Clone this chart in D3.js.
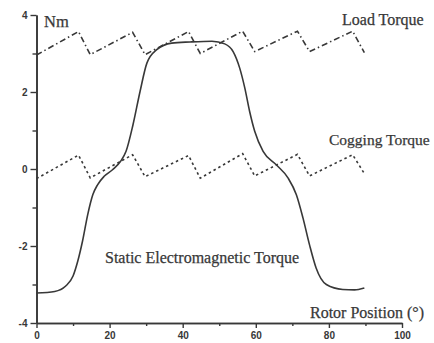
<!DOCTYPE html>
<html>
<head>
<meta charset="utf-8">
<script src="https://cdn.jsdelivr.net/npm/d3@7"></script>
<style>
  html, body { margin: 0; padding: 0; background: #fff; overflow: hidden; }
  svg { display: block; }
</style>
</head>
<body>
<div id="app"></div>
<script>
// rotor position (deg) at the corners of the saw-tooth curves
const toothAngles = [0, 11.5, 14.7, 26.3, 29.7, 41.6, 44.8, 56.4, 59.7, 71.4, 74.7, 86.5, 89.7]
const loadTorque = [2.96, 3.57, 2.97, 3.55, 2.97, 3.57, 3.0, 3.58, 3.05, 3.58, 3.05, 3.58, 3.02]
const coggingTorque = [-0.25, 0.36, -0.23, 0.37, -0.2, 0.35, -0.24, 0.4, -0.18, 0.38, -0.18, 0.37, -0.12]

const emAngles = [0, 5, 8, 10, 11.3, 12.6, 14, 15.4, 16.7, 18.5, 20.8, 23, 24.5, 26.4, 28.3, 30.2,
  32.9, 37, 42, 48, 51.5, 53.8, 55.6, 57, 58.3, 59.7, 62, 65.6, 68.8, 71.1, 72.9, 74.7, 76.5,
  79.3, 83.8, 87, 89.7]
const emTorque = [-3.22, -3.18, -3.04, -2.78, -2.39, -1.87, -1.19, -0.67, -0.41, -0.19, -0.02, 0.2,
  0.46, 1.15, 2.0, 2.75, 3.1, 3.27, 3.3, 3.32, 3.25, 3.05, 2.62, 2.1, 1.5, 0.98, 0.46, 0.11,
  -0.23, -0.67, -1.27, -1.97, -2.57, -3.0, -3.13, -3.14, -3.09]

const xMajor = [0, 20, 40, 60, 80, 100]
const xMinor = [10, 30, 50, 70, 90]
const yMajor = [4, 2, 0, -2, -4]
const yMinor = [3, 1, -1, -3]

const config = {
  width: 434,
  height: 343,
  ink: '#383838',
  serif: '"Liberation Serif", "DejaVu Serif", serif',
  sans: '"Liberation Sans", Arial, sans-serif',
}

const draw = () => {
  const svg = d3
    .select('#app')
    .append('svg')
    .attr('width', config.width)
    .attr('height', config.height)

  const x = d3.scaleLinear().domain([0, 100]).range([36.5, 402])
  const y = d3.scaleLinear().domain([-4, 4]).range([323, 15])

  const styleAxis = (g) => {
    g.select('.domain').attr('stroke', config.ink).attr('stroke-width', 1.6)
    g.selectAll('.tick line').attr('stroke', config.ink).attr('stroke-width', 1.4)
    g.selectAll('.tick text')
      .attr('fill', config.ink)
      .style('font-family', config.sans)
      .style('font-weight', 'bold')
      .style('font-size', '10px')
  }

  // minor ticks first, then the major axes on top
  svg.append('g')
    .attr('transform', `translate(0,${y(-4)})`)
    .call(d3.axisBottom(x).tickValues(xMinor).tickSize(3).tickSizeOuter(0).tickFormat(''))
    .call(styleAxis)
  svg.append('g')
    .attr('transform', `translate(${x(0)},0)`)
    .call(d3.axisLeft(y).tickValues(yMinor).tickSize(4).tickSizeOuter(0).tickFormat(''))
    .call(styleAxis)

  svg.append('g')
    .attr('transform', `translate(0,${y(-4)})`)
    .call(d3.axisBottom(x).tickValues(xMajor).tickSize(5).tickPadding(4).tickSizeOuter(0))
    .call(styleAxis)
  svg.append('g')
    .attr('transform', `translate(${x(0)},0)`)
    .call(d3.axisLeft(y).tickValues(yMajor).tickSize(6).tickPadding(3).tickSizeOuter(0)
      .tickFormat((d) => (d < 0 ? '-' + Math.abs(d) : d)))
    .call(styleAxis)

  const line = d3.line().x((d) => x(d[0])).y((d) => y(d[1]))

  const series = [
    {pts: d3.zip(toothAngles, loadTorque), dash: '6,3,1.5,3', curve: d3.curveLinear},
    {pts: d3.zip(toothAngles, coggingTorque), dash: '2.5,3', curve: d3.curveLinear},
    {pts: d3.zip(emAngles, emTorque), dash: null, curve: d3.curveMonotoneX},
  ]

  svg.append('g')
    .selectAll('path')
    .data(series)
    .join('path')
    .attr('d', (d) => line.curve(d.curve)(d.pts))
    .attr('fill', 'none')
    .attr('stroke', config.ink)
    .attr('stroke-width', 1.6)
    .attr('stroke-dasharray', (d) => d.dash)

  const labels = [
    {text: 'Nm', x: 44, y: 27, size: 16.5},
    {text: 'Load Torque', x: 342, y: 25, size: 16},
    {text: 'Cogging Torque', x: 329, y: 145, size: 15.5},
    {text: 'Static Electromagnetic Torque', x: 105, y: 263, size: 16},
    {text: 'Rotor Position (°)', x: 310, y: 318, size: 16},
  ]

  svg.append('g')
    .selectAll('text')
    .data(labels)
    .join('text')
    .attr('x', (d) => d.x)
    .attr('y', (d) => d.y)
    .attr('fill', config.ink)
    .attr('stroke', config.ink)
    .attr('stroke-width', 0.25)
    .style('font-family', config.serif)
    .style('font-size', (d) => d.size + 'px')
    .text((d) => d.text)
}
draw()
</script>
</body>
</html>
